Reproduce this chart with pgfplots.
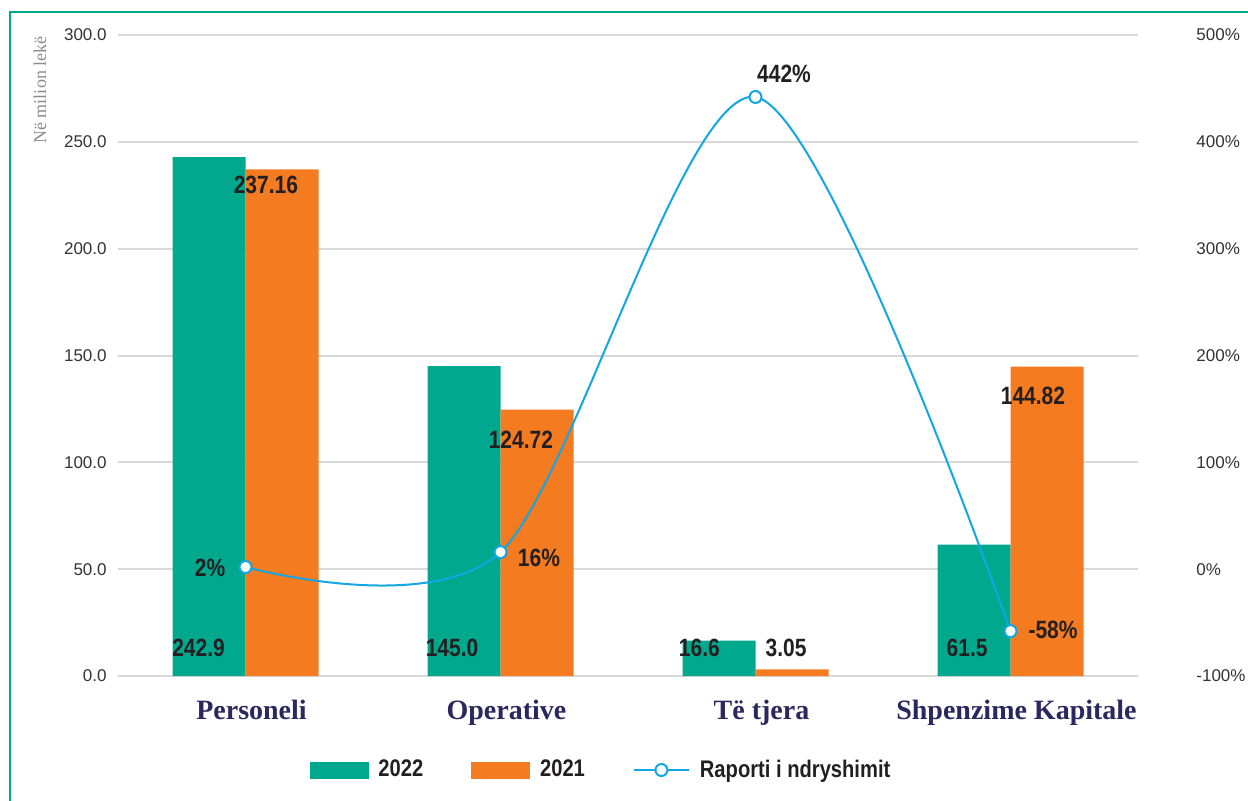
\documentclass[border=0pt]{standalone}
\usepackage{pgfplots}
\pgfplotsset{compat=1.18}
\usepackage{fontspec}
\setmainfont{Liberation Sans}
\newfontfamily\labfont[FakeStretch=0.84]{Liberation Sans}
\newfontfamily\catfont{Liberation Serif}
\definecolor{tealbar}{RGB}{0,168,142}
\definecolor{orangebar}{RGB}{244,123,32}
\definecolor{lineblue}{RGB}{20,165,228}
\definecolor{navy}{RGB}{42,40,94}
\definecolor{gridgray}{RGB}{217,217,217}
\definecolor{textdark}{RGB}{35,31,32}
\definecolor{ticktext}{RGB}{51,51,51}
\begin{document}
\begin{tikzpicture}
\path[use as bounding box] (-59pt,-62pt) rectangle (565pt,338pt);
\draw[tealbar, line width=1.2pt] (-54pt,-70pt) -- (-54pt,332pt) -- (575pt,332pt);
\node[rotate=90, font=\catfont\fontsize{9}{10}\selectfont, text={rgb,255:red,140;green,140;blue,140}] at (-39pt,293pt) {Në milion lekë};
\begin{axis}[
  at={(0pt,0pt)}, anchor=south west, scale only axis,
  width=510pt, height=320.5pt,
  xmin=-0.5, xmax=3.5, ymin=0, ymax=300,
  axis x line*=bottom, axis y line*=left,
  axis line style={draw=none},
  major tick length=0pt,
  ymajorgrids, grid style={gridgray, line width=1pt},
  xtick={0,1,2,3},
  xticklabels={Personeli, Operative, Të tjera, Shpenzime Kapitale},
  xticklabel style={font=\catfont\bfseries\fontsize{14}{16}\selectfont, text=navy, anchor=base, yshift=-21.5pt, xshift=3pt},
  ytick={0,50,100,150,200,250,300},
  yticklabels={0.0,50.0,100.0,150.0,200.0,250.0,300.0},
  yticklabel style={font=\fontsize{8.5}{10}\selectfont, text=ticktext, anchor=east, inner sep=0pt, xshift=-5.5pt},
  /pgf/number format/assume math mode=true,
  clip=false,
]
\addplot[ybar, fill=tealbar, draw=none, bar width=36.5pt, bar shift=-18.25pt] coordinates {(0,242.9) (1,145.0) (2,16.6) (3,61.5)};
\addplot[ybar, fill=orangebar, draw=none, bar width=36.5pt, bar shift=18.25pt] coordinates {(0,237.16) (1,124.72) (2,3.05) (3,144.82)};
\begin{scope}[every node/.style={font=\labfont\bfseries\fontsize{12.5}{14}\selectfont, text=textdark, inner sep=0pt}]
\node at (axis cs:-0.184,13.1) {242.9};
\node at (axis cs:0.810,13.1) {145.0};
\node at (axis cs:1.780,13.1) {16.6};
\node at (axis cs:2.830,13.1) {61.5};
\node at (axis cs:0.080,229.8) {237.16};
\node at (axis cs:1.080,110.5) {124.72};
\node at (axis cs:2.120,13.1) {3.05};
\node at (axis cs:3.088,131.0) {144.82};
\end{scope}
\end{axis}
\begin{axis}[
  at={(0pt,0pt)}, anchor=south west, scale only axis,
  width=510pt, height=320.5pt,
  xmin=-0.5, xmax=3.5, ymin=-100, ymax=500,
  axis x line=none, axis y line*=right,
  y axis line style={draw=none},
  major tick length=0pt,
  ytick={-100,0,100,200,300,400,500},
  yticklabels={-100\%,0\%,100\%,200\%,300\%,400\%,500\%},
  yticklabel style={font=\fontsize{8.5}{10}\selectfont, text=ticktext, anchor=west, inner sep=0pt, xshift=29pt},
  /pgf/number format/assume math mode=true,
  clip=false,
  legend style={at={(0.4745,-0.1467)}, anchor=center, draw=none, fill=none,
    font=\labfont\bfseries\fontsize{12}{14}\selectfont, text=textdark,
    /tikz/every odd column/.append style={column sep=3pt},
    /tikz/every even column/.append style={column sep=22pt}},
  legend columns=3,
  legend cell align=left,
]
\addlegendimage{legend image code/.code={\fill[tealbar] (0pt,-4pt) rectangle (29pt,4pt);}}
\addlegendentry{2022}
\addlegendimage{legend image code/.code={\fill[orangebar] (0pt,-4pt) rectangle (29pt,4pt);}}
\addlegendentry{2021}
\addplot[lineblue, line width=1pt, smooth, mark=*, mark size=3pt, mark options={fill=white, draw=lineblue, line width=1pt},
  legend image code/.code={\draw[lineblue, line width=1pt] (0pt,0pt) -- (27.5pt,0pt); \draw[lineblue, fill=white, line width=1pt] (13.75pt,0pt) circle (3pt);}]
  coordinates {(0,2) (1,16) (2,442) (3,-58)};
\addlegendentry{Raporti i ndryshimit}
\begin{scope}[every node/.style={font=\labfont\bfseries\fontsize{12.5}{14}\selectfont, text=textdark, inner sep=0pt}]
\node at (axis cs:-0.139,1.1) {2\%};
\node at (axis cs:1.151,10.5) {16\%};
\node at (axis cs:2.112,463.5) {442\%};
\node at (axis cs:3.167,-56.9) {-58\%};
\end{scope}
\end{axis}
\end{tikzpicture}
\end{document}
